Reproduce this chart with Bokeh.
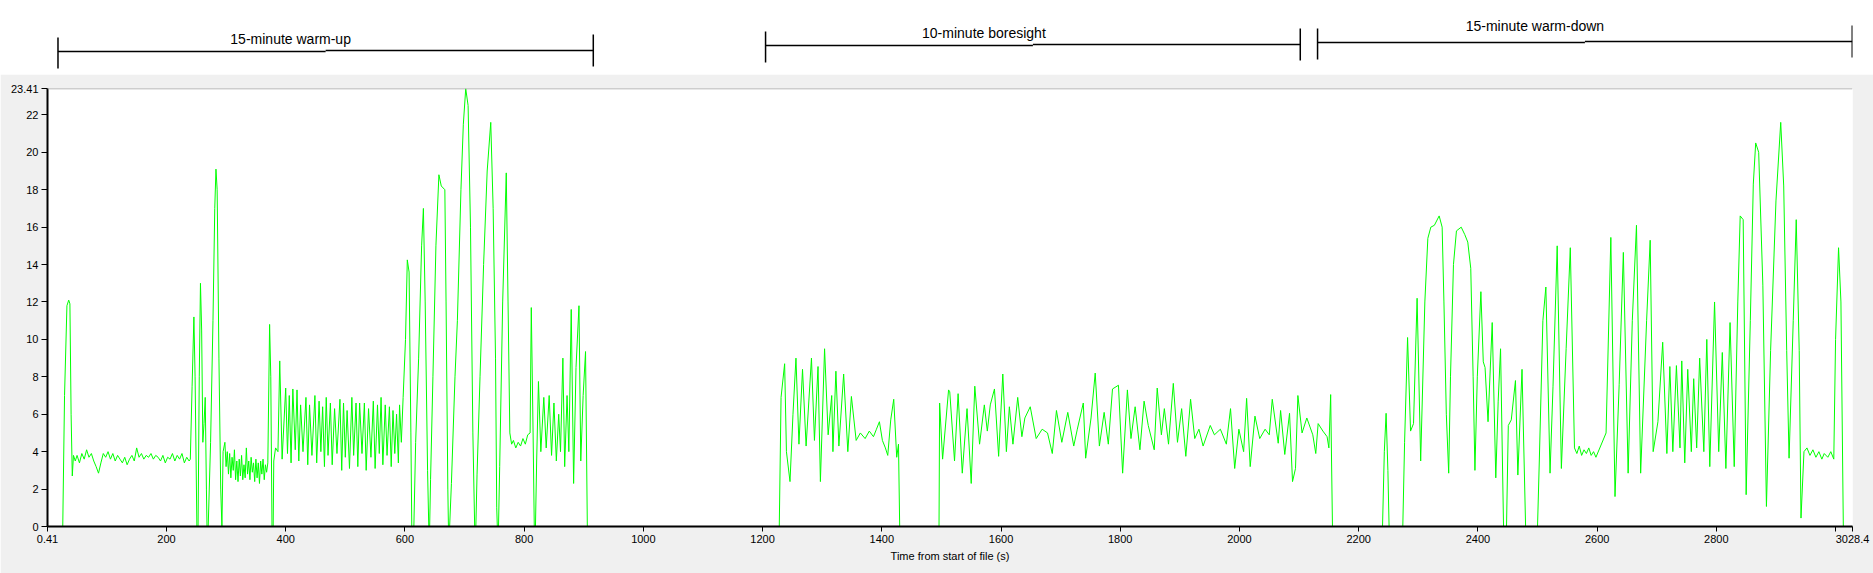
from bokeh.plotting import figure
from bokeh.models import Range1d, FixedTicker, Span, ColumnDataSource
from bokeh.layouts import column
from bokeh.embed import file_html
from bokeh.resources import INLINE
from bokeh.core.properties import value

# ---- data: (time from start of file [s], value) ----
warmup = [
    (0.41, 0), (26, 0), (29, 7), (33, 11.8), (36, 12.1), (38, 11.9), (40, 6.0), (42, 2.7), (44, 3.8),
    (47, 3.5), (50, 3.8), (54, 3.4), (58, 3.9), (62, 3.6), (66, 4.1), (70, 3.7), (74, 3.9), (78, 3.5),
    (82, 3.2), (86, 2.85), (90, 3.4), (94, 3.9), (98, 3.7), (102, 4.0), (106, 3.6), (110, 3.9), (114, 3.5),
    (118, 3.8), (122, 3.6), (126, 3.4), (130, 3.7), (134, 3.3), (138, 3.6), (142, 3.8), (146, 3.5),
    (150, 4.2), (154, 3.7), (158, 3.9), (162, 3.6), (166, 3.8), (170, 3.7), (174, 3.9), (178, 3.6),
    (182, 3.8), (186, 3.7), (190, 3.5), (194, 3.8), (198, 3.4), (202, 3.7), (206, 3.6), (210, 3.9),
    (214, 3.5), (218, 3.8), (222, 3.6), (226, 3.9), (230, 3.4), (234, 3.7), (238, 3.5),
    (240, 3.6), (243, 7.5), (246, 11.2), (248, 8), (251, 0), (253, 0), (255, 8), (257, 13.0), (259, 10.5),
    (261, 4.5), (263, 5.5), (265, 6.9), (267, 2), (268, 0), (270, 0), (274, 4.5), (278, 11), (281, 17),
    (283, 19.1), (285, 18), (288, 9), (291, 2), (293, 0), (295, 4.0), (298, 4.5),
    (300, 3.2), (302, 4.0), (304, 2.8), (306, 3.9), (308, 2.6), (310, 3.7), (312, 3.0), (314, 4.1),
    (316, 2.5), (318, 3.5), (320, 2.4), (322, 3.6), (324, 2.7), (326, 3.8), (328, 2.5), (330, 3.3),
    (332, 2.6), (334, 4.2), (336, 2.8), (338, 3.5), (340, 2.5), (342, 3.7), (344, 2.9), (346, 3.4),
    (348, 2.4), (350, 3.6), (352, 2.6), (354, 3.4), (356, 2.3), (358, 3.5), (360, 2.8), (362, 3.6),
    (364, 2.5), (366, 3.3), (368, 2.9), (370, 3.4),
    (373, 10.8), (375, 8), (377, 0), (379, 0), (380, 3.5), (383, 4.2), (387, 4.0), (390, 8.85),
    (394, 3.6), (400, 7.4), (403, 3.9), (406, 7.0), (409, 3.4), (412, 7.35), (416, 4.1), (419, 7.3),
    (422, 3.5), (425, 6.5), (429, 4.0), (434, 6.9), (437, 3.3), (440, 6.5), (444, 3.8), (449, 7.0),
    (452, 3.4), (456, 6.7), (459, 4.0), (462, 6.4), (465, 3.2), (468, 6.9), (471, 3.8), (475, 6.6),
    (478, 3.3), (482, 6.3), (486, 3.9), (491, 6.8), (494, 3.0), (497, 6.6), (500, 3.7), (503, 6.2),
    (507, 3.1), (511, 6.9), (514, 3.8), (518, 6.6), (521, 3.2), (524, 6.6), (528, 3.9), (532, 6.6),
    (535, 3.0), (539, 6.3), (543, 3.7), (547, 6.7), (550, 3.1), (554, 6.5), (557, 3.9), (560, 6.9),
    (563, 3.3), (567, 6.5), (570, 3.8), (574, 6.4), (577, 3.2), (580, 6.2), (583, 3.9), (586, 6.0),
    (589, 3.4), (591, 6.5), (594, 4.5),
    (597, 6.9), (601, 10), (604, 14.25), (607, 13.6), (610, 5), (611.5, 0), (615, 0), (618, 4.5),
    (623, 9), (628, 15), (631, 17.0), (634, 12), (638, 3), (640, 0), (641.5, 0), (643, 2.5), (647, 8),
    (652, 15), (657, 18.8), (661, 18.2), (667, 18.0), (669, 12), (672, 2), (673, 0), (675, 0),
    (678, 2.3), (684, 8), (688, 11), (694, 18), (698, 21.5), (702, 23.4), (706, 22.5), (710, 16),
    (714, 5), (717, 0), (719, 0), (721, 2.8), (726, 8), (732, 14), (738, 19), (744, 21.6), (748, 17),
    (752, 9), (754, 1), (755, 0), (757, 0), (759, 3.2), (764, 12), (770, 18.9), (773, 12), (776, 5),
    (779, 4.4), (782, 4.6), (786, 4.2), (790, 4.5), (794, 4.3), (798, 4.7), (802, 4.4), (806, 4.9),
    (810, 5), (812, 11.7), (815, 5), (817, 0), (819, 0), (821, 3.5), (824, 7.75), (828, 4.0),
    (833, 6.9), (837, 4.2), (842, 7.0), (846, 3.8), (850, 6.6), (854, 3.5), (858, 6.0), (861, 4.0),
    (865, 9.0), (868, 3.2), (872, 7.0), (875, 4.0), (879, 11.6), (883, 2.3), (887, 8.5), (892, 11.8),
    (895, 3.5), (899, 7), (903, 9.35), (906, 0),
]

boresight = [
    (1228, 0), (1231, 6.9), (1237, 8.7), (1240, 4), (1246, 2.4), (1251, 6), (1256, 9.0), (1261, 4.4),
    (1267, 8.4), (1273, 4.3), (1282, 9.0), (1287, 4.6), (1293, 8.55), (1297, 2.4), (1304, 9.5),
    (1310, 4.9), (1316, 7.0), (1318, 4.0), (1323, 8.3), (1328, 4.3), (1336, 8.15), (1343, 4.0),
    (1349, 6.95), (1357, 4.6), (1364, 5.0), (1372, 4.7), (1379, 5.1), (1386, 4.8), (1391, 5.2),
    (1396, 5.6), (1401, 4.6), (1406, 4.2), (1410, 3.8), (1415, 5.7), (1420, 6.8), (1425, 3.7),
    (1428, 4.4), (1430, 0), (1496, 0),
    (1497, 6.6), (1502, 3.6), (1512, 7.3), (1514, 7.2), (1522, 3.5), (1528, 7.1), (1535, 2.85),
    (1543, 6.3), (1550, 2.3), (1556, 7.5), (1564, 4.4), (1572, 6.5), (1577, 5.1), (1582, 6.5),
    (1589, 7.35), (1596, 3.75), (1603, 8.15), (1609, 4.0), (1614, 6.4), (1620, 4.4), (1628, 6.9),
    (1635, 4.8), (1640, 5.8), (1649, 6.4), (1659, 4.7), (1669, 5.2), (1678, 5.0), (1686, 3.9),
    (1693, 6.2), (1702, 4.5), (1712, 6.1), (1722, 4.3), (1728, 5.2), (1738, 6.6), (1742, 3.65),
    (1751, 5.8), (1758, 8.2), (1765, 4.3), (1773, 6.1), (1780, 4.4), (1787, 7.35), (1797, 7.55),
    (1804, 2.85), (1812, 7.3), (1818, 4.7), (1825, 6.4), (1833, 4.1), (1840, 6.7), (1847, 5.4),
    (1857, 4.1), (1862, 7.4), (1869, 4.9), (1874, 6.3), (1881, 4.4), (1889, 7.65), (1896, 4.5),
    (1903, 6.3), (1910, 3.75), (1918, 6.8), (1925, 4.7), (1932, 5.2), (1939, 4.3), (1951, 5.4),
    (1958, 4.9), (1968, 5.2), (1978, 4.4), (1985, 6.3), (1992, 3.1), (1999, 5.2), (2007, 4.0),
    (2012, 6.85), (2018, 3.2), (2026, 5.9), (2034, 4.7), (2043, 5.2), (2050, 4.9), (2055, 6.8),
    (2065, 4.45), (2069, 6.2), (2076, 3.85), (2084, 6.05), (2089, 2.4), (2094, 3.1), (2098, 7.0),
    (2105, 5.0), (2113, 5.8), (2123, 4.9), (2128, 3.9), (2132, 5.5), (2140, 5.1), (2147, 4.8),
    (2150, 4.2), (2153, 7.05), (2156, 0),
]

warmdown = [
    (2240, 0), (2243, 4), (2246, 6.05), (2249, 3), (2251, 0), (2274, 0), (2277, 4.5), (2282, 10.1),
    (2287, 5.1), (2292, 5.5), (2298, 12.2), (2304, 3.5), (2311, 12), (2316, 15.4), (2321, 16.0),
    (2327, 16.1), (2335, 16.6), (2340, 16.0), (2343, 12), (2347, 6), (2351, 2.85), (2354, 8),
    (2359, 14), (2364, 15.8), (2372, 16.0), (2378, 15.6), (2383, 15.2), (2388, 13.8), (2392, 8),
    (2395, 3.0), (2399, 8), (2405, 12.55), (2409, 8.8), (2412, 8.5), (2417, 5.6), (2424, 10.9),
    (2430, 2.6), (2434, 6.7), (2438, 9.5), (2443, 0), (2448, 0), (2451, 5.4), (2456, 5.7),
    (2463, 7.8), (2467, 2.75), (2474, 8.4), (2480, 0), (2500, 0), (2503, 3.5), (2509, 11),
    (2514, 12.8), (2521, 2.85), (2526, 7.5), (2533, 15.0), (2540, 3.1), (2548, 9.5), (2555, 14.9),
    (2562, 4.2), (2566, 3.9), (2570, 4.3), (2574, 3.8), (2578, 4.1), (2582, 3.9), (2586, 4.2),
    (2590, 3.8), (2594, 4.0), (2598, 3.7), (2615, 5), (2623, 15.45), (2630, 1.6), (2637, 7.6),
    (2644, 14.65), (2652, 2.85), (2659, 11), (2666, 16.1), (2673, 2.85), (2683, 11), (2689, 15.3),
    (2694, 4.0), (2702, 5.6), (2710, 9.85), (2717, 3.9), (2722, 8.55), (2727, 4.0), (2733, 8.6),
    (2739, 4.2), (2742, 8.85), (2747, 3.4), (2752, 8.4), (2758, 4.0), (2762, 7.9), (2767, 4.2),
    (2772, 9.0), (2779, 4.0), (2784, 10.0), (2789, 3.2), (2797, 12.0), (2804, 4.0), (2810, 9.3),
    (2816, 3.1), (2823, 10.9), (2830, 3.2), (2836, 12), (2840, 16.6), (2845, 16.4), (2850, 1.7),
    (2857, 11), (2862, 18.3), (2866, 20.5), (2871, 20), (2878, 12.9), (2884, 1.07), (2891, 9.4),
    (2900, 17.4), (2908, 21.6), (2913, 18.2), (2918, 9.4), (2922, 3.65), (2929, 11), (2934, 16.4),
    (2939, 9.4), (2942, 0.45), (2947, 4.0), (2952, 4.2), (2957, 3.8), (2962, 4.1), (2967, 3.7),
    (2972, 4.0), (2977, 3.6), (2981, 3.9), (2987, 3.7), (2992, 4.0), (2997, 3.6), (3000, 10),
    (3005, 14.9), (3009, 12), (3013, 0), (3028.4, 0),
]

x_ticks = [0.41, 200, 400, 600, 800, 1000, 1200, 1400, 1600, 1800, 2000, 2200, 2400, 2600, 2800, 3000, 3028.4]
x_tick_labels = ["0.41", "200", "400", "600", "800", "1000", "1200", "1400", "1600", "1800", "2000",
                 "2200", "2400", "2600", "2800", "", "3028.4"]
y_ticks = [0, 2, 4, 6, 8, 10, 12, 14, 16, 18, 20, 22, 23.41]
y_tick_labels = ["0", "2", "4", "6", "8", "10", "12", "14", "16", "18", "20", "22", "23.41"]

phase_names = ["15-minute warm-up", "10-minute boresight", "15-minute warm-down"]
phase_start = [18, 1205, 2131]
phase_end = [916, 2102, 3028]

x_label = "Time from start of file (s)"

# ---- build ----
points = warmup + boresight + warmdown
time_s = [p[0] for p in points]
vals = [p[1] for p in points]

FONT = "Liberation Sans"
W = 1873
TOP_H = 74
xr = Range1d(0.41, 3028.4)

# top annotation strip (pixel-like y coordinates, 0 at top)
top = figure(width=W, height=TOP_H, x_range=xr, y_range=Range1d(TOP_H, 0),
             x_axis_type=None, y_axis_type=None, toolbar_location=None, output_backend="svg",
             min_border_left=47, min_border_right=21, min_border_top=0, min_border_bottom=0)
top.grid.visible = False
top.outline_line_color = None
top.background_fill_color = "white"
top.border_fill_color = "white"

levels = [51, 45, 42]          # bracket line heights (layout)
label_y = [38, 32, 25]
label_dx = [-35, -49, -50]
mid = [(a + b) / 2 for a, b in zip(phase_start, phase_end)]
seg = ColumnDataSource(dict(
    x0=phase_start + mid + phase_start + phase_end,
    x1=mid + phase_end + phase_start + phase_end,
    y0=levels + [l - 1 for l in levels] + [l - 14 for l in levels] + [l - 17 for l in levels],
    y1=levels + [l - 1 for l in levels] + [l + 17 for l in levels] + [l + 15 for l in levels],
))
top.segment("x0", "y0", "x1", "y1", source=seg, line_color="black", line_width=1.5)
lab = ColumnDataSource(dict(x=mid, y=label_y, text=phase_names, dx=label_dx))
top.text(x="x", y="y", text="text", x_offset="dx", source=lab, text_align="center",
         text_baseline="middle", text_font=value(FONT), text_font_size="14px", text_color="black")

p = figure(width=W, height=573 - TOP_H, x_range=xr, y_range=Range1d(0, 23.41),
           toolbar_location=None, output_backend="svg",
           min_border_left=47, min_border_right=21, min_border_top=14, min_border_bottom=47)
p.background_fill_color = "white"
p.border_fill_color = "#f0f0f0"
p.outline_line_color = None
p.grid.visible = False

p.line(time_s, vals, line_color="#00ff00", line_width=1)

p.add_layout(Span(location=23.41, dimension="width", line_color="#a0a0a0", line_width=1.5))

p.xaxis.ticker = FixedTicker(ticks=x_ticks)
p.xaxis.major_label_overrides = {t: s for t, s in zip(x_ticks, x_tick_labels)}
p.yaxis.ticker = FixedTicker(ticks=y_ticks)
p.yaxis.major_label_overrides = {t: s for t, s in zip(y_ticks, y_tick_labels)}
p.xaxis.axis_label = x_label

for ax in (p.xaxis[0], p.yaxis[0]):
    ax.axis_line_color = "black"
    ax.axis_line_width = 2
    ax.major_tick_line_color = "black"
    ax.major_tick_line_width = 1
    ax.major_tick_out = 6
    ax.major_tick_in = 0
    ax.minor_tick_line_color = None
    ax.major_label_text_font = FONT
    ax.major_label_text_font_size = "11px"
    ax.major_label_text_color = "black"
    ax.major_label_standoff = 3
p.xaxis.major_tick_out = 5
p.xaxis.axis_label_text_font = FONT
p.xaxis.axis_label_text_font_size = "11px"
p.xaxis.axis_label_text_font_style = "normal"
p.xaxis.axis_label_text_color = "black"
p.xaxis.axis_label_standoff = 4

layout = column(top, p, spacing=0)
open("out.html", "w").write(file_html(layout, INLINE))
